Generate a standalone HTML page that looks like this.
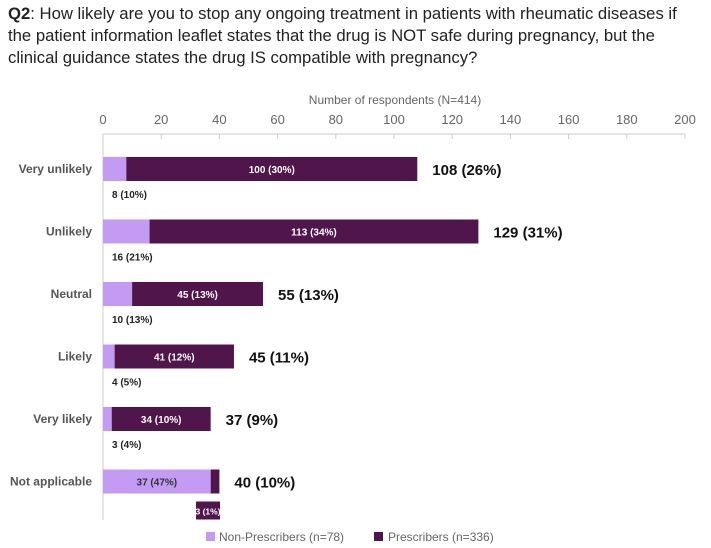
<!DOCTYPE html>
<html><head><meta charset="utf-8"><style>
body{margin:0;background:#fff;font-family:"Liberation Sans",sans-serif;}
#t{position:absolute;left:8px;top:3px;width:705px;font-size:16.7px;line-height:22px;color:#222;white-space:nowrap;}
</style></head><body>
<div id="t"><b>Q2</b>: How likely are you to stop any ongoing treatment in patients with rheumatic diseases if<br>the patient information leaflet states that the drug is NOT safe during pregnancy, but the<br>clinical guidance states the drug IS compatible with pregnancy?</div>
<svg id="c" width="711" height="548" style="position:absolute;left:0;top:0"></svg>
<script>
const categories=["Very unlikely","Unlikely","Neutral","Likely","Very likely","Not applicable"];
const nonPresc=[8,16,10,4,3,37];
const nonPct=["10%","21%","13%","5%","4%","47%"];
const presc=[100,113,45,41,34,3];
const prescPct=["30%","34%","13%","12%","10%","1%"];
const totalPct=["26%","31%","13%","11%","9%","10%"];
const ticks=[0,20,40,60,80,100,120,140,160,180,200];
const svg=document.getElementById('c');const NS="http://www.w3.org/2000/svg";
const x=v=>103+v*2.91;const yc=i=>169+i*62.5;
function mk(t,a,txt){const e=document.createElementNS(NS,t);for(const k in a)e.setAttribute(k,a[k]);if(txt!==undefined)e.textContent=txt;svg.appendChild(e);return e;}
let e=mk('text',{x:395,y:104,'text-anchor':'middle','font-size':12,fill:'#666'},'Number of respondents (N=414)');

e=mk('line',{x1:103,x2:685,y1:134,y2:134,stroke:'#ccc'});

e=mk('line',{x1:103,x2:103,y1:134,y2:520,stroke:'#ccc'});

ticks.forEach(t=>{
 e=mk('text',{x:x(t),y:124,'text-anchor':'middle','font-size':13,fill:'#666'},t);
 
 e=mk('line',{x1:x(t),x2:x(t),y1:134,y2:139,stroke:'#ccc'});
 
});
categories.forEach((c,i)=>{
 const y=yc(i);
 e=mk('text',{x:92,y:y+4,'text-anchor':'end','font-size':12,'font-weight':'bold',fill:'#555'},c);
 
 e=mk('rect',{x:x(0),y:y-12,width:x(nonPresc[i])-x(0),height:24,fill:'#c39bf3'});
 
 e=mk('rect',{x:x(nonPresc[i]),y:y-12,width:x(presc[i])-x(0),height:24,fill:'#50154a'});
 
 const tot=nonPresc[i]+presc[i];
 e=mk('text',{x:x(tot)+15,y:y+6,'font-size':15,'font-weight':'bold',fill:'#111'},tot+' ('+totalPct[i]+')');
 
 if(i<5){
  e=mk('text',{x:(x(nonPresc[i])+x(tot))/2,y:y+4,'text-anchor':'middle','font-size':10,'font-weight':'bold',fill:'#fff'},presc[i]+' ('+prescPct[i]+')');
  
  e=mk('text',{x:112,y:y+29,'font-size':10,'font-weight':'bold',fill:'#222'},nonPresc[i]+' ('+nonPct[i]+')');
  
 }else{
  e=mk('text',{x:(x(0)+x(nonPresc[i]))/2,y:y+4,'text-anchor':'middle','font-size':10,'font-weight':'bold',fill:'#333'},nonPresc[i]+' ('+nonPct[i]+')');
  
  const cx=x(nonPresc[i]+presc[i]/2)-7;
  e=mk('rect',{x:cx-12,y:y+20,width:24,height:18,fill:'#50154a'});
  
  e=mk('text',{x:cx,y:y+33,'text-anchor':'middle','font-size':8.5,'font-weight':'bold',fill:'#fff'},presc[i]+' ('+prescPct[i]+')');
  
 }
});
e=mk('rect',{x:206,y:532,width:9,height:9,fill:'#c39bf3'});

e=mk('text',{x:219,y:541,'font-size':12,fill:'#666'},'Non-Prescribers (n=78)');

e=mk('rect',{x:374,y:532,width:9,height:9,fill:'#50154a'});

e=mk('text',{x:388,y:541,'font-size':12,fill:'#666'},'Prescribers (n=336)');

</script>
</body></html>
